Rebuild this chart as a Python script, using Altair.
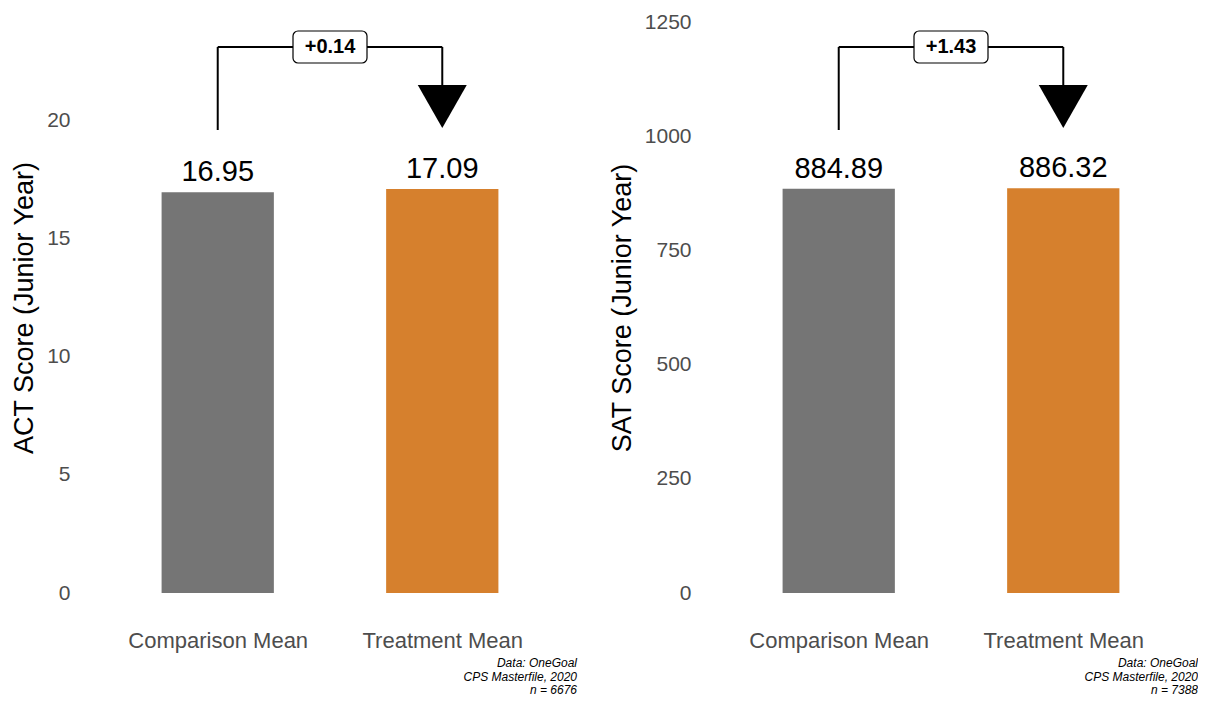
import altair as alt
import pandas as pd

categories = ["Comparison Mean", "Treatment Mean"]
positions = [1, 2]
act_values = [16.95, 17.09]
sat_values = [884.89, 886.32]
act_diff = "+0.14"
sat_diff = "+1.43"
act_n = 6676
sat_n = 7388
act_ticks = [0, 5, 10, 15, 20]
sat_ticks = [0, 250, 500, 750, 1000, 1250]
act_ymax = 24.15
sat_ymax = 1250
bar_colors = ["#757575", "#D6802D"]

FONT = "Liberation Sans"
PW, PH = 494, 571


def panel(values, ymax, ytitle, diff, n, ticks):
    bars = pd.DataFrame({
        "cat": categories,
        "pos": positions,
        "lo": [p - 0.25 for p in positions],
        "hi": [p + 0.25 for p in positions],
        "val": values,
        "base": [0, 0],
        "lab": [f"{v:.2f}" for v in values],
    })
    xs = alt.Scale(domain=[0.4, 2.6], nice=False, zero=False)
    ys = alt.Scale(domain=[0, ymax], nice=False, zero=True)
    label_expr = "datum.value == 1 ? '%s' : '%s'" % (categories[0], categories[1])
    xaxis = alt.Axis(values=positions, labelExpr=label_expr, title=None,
                     labelFontSize=22, labelColor="#4D4D4D", labelFont=FONT,
                     labelPadding=37, grid=False, domain=False, ticks=False)
    yaxis = alt.Axis(values=ticks, format="d", title=ytitle, titleFontSize=27, titleFont=FONT,
                     titleFontWeight="normal", titleColor="black", titlePadding=8,
                     labelFontSize=21, labelColor="#4D4D4D", labelFont=FONT,
                     labelPadding=13, grid=False, domain=False, ticks=False)

    bar = alt.Chart(bars).mark_bar().encode(
        x=alt.X("lo:Q", scale=xs, axis=xaxis),
        x2="hi:Q",
        y=alt.Y("val:Q", scale=ys, axis=yaxis),
        y2="base:Q",
        color=alt.Color("cat:N", scale=alt.Scale(domain=categories, range=bar_colors), legend=None),
    )
    txt = alt.Chart(bars).mark_text(font=FONT, fontSize=29, baseline="alphabetic", dy=-11, color="black").encode(
        x=alt.X("pos:Q", scale=xs), y=alt.Y("val:Q", scale=ys), text="lab:N")

    low = ymax * 463 / PH
    top = ymax * 546 / PH
    tip = ymax * 486.5 / PH
    segs = pd.DataFrame({
        "x": [positions[0], positions[0], positions[1]],
        "x2": [positions[0], positions[1], positions[1]],
        "y": [low, top, top],
        "y2": [top, top, tip],
    })
    rules = alt.Chart(segs).mark_rule(color="black", strokeWidth=2).encode(
        x=alt.X("x:Q", scale=xs), x2="x2:Q", y=alt.Y("y:Q", scale=ys), y2="y2:Q")
    arrow = alt.Chart(pd.DataFrame({"x": [positions[1]], "y": [tip]})).mark_point(
        shape="M-1,-0.88L1,-0.88L0,0.88Z", size=2401, filled=True, color="black", opacity=1, strokeWidth=0
    ).encode(x=alt.X("x:Q", scale=xs), y=alt.Y("y:Q", scale=ys))
    bw = 37 * 2.2 / PW
    bh = ymax * 16 / PH
    mid = (positions[0] + positions[1]) / 2
    box_df = pd.DataFrame({"x": [mid - bw], "x2": [mid + bw], "y": [top - bh], "y2": [top + bh],
                           "xm": [mid], "ym": [top], "t": [diff]})
    box = alt.Chart(box_df).mark_rect(fill="white", stroke="black", strokeWidth=1.2, cornerRadius=5).encode(
        x=alt.X("x:Q", scale=xs), x2="x2:Q", y=alt.Y("y:Q", scale=ys), y2="y2:Q")
    box_t = alt.Chart(box_df).mark_text(font=FONT, fontSize=20, fontWeight="bold", color="black",
                                        baseline="middle").encode(
        x=alt.X("xm:Q", scale=xs), y=alt.Y("ym:Q", scale=ys), text="t:N")

    return alt.layer(bar, txt, rules, arrow, box, box_t).properties(
        width=PW, height=PH,
        title=alt.TitleParams(
            text=["Data: OneGoal", "CPS Masterfile, 2020", f"n = {n}"],
            orient="bottom", anchor="end", font=FONT, fontSize=12, fontStyle="italic",
            fontWeight="normal", color="black", lineHeight=13.5, offset=7,
        ),
    )


left = panel(act_values, act_ymax, "ACT Score (Junior Year)", act_diff, act_n, act_ticks)
right = panel(sat_values, sat_ymax, "SAT Score (Junior Year)", sat_diff, sat_n, sat_ticks)

chart = alt.hconcat(left, right, spacing=31).properties(
    padding={"left": 2, "top": 3, "right": 0, "bottom": 0}
).configure(background="white").configure_view(stroke=None)

chart.save("out.html", embed_options={"renderer": "svg", "actions": False})
